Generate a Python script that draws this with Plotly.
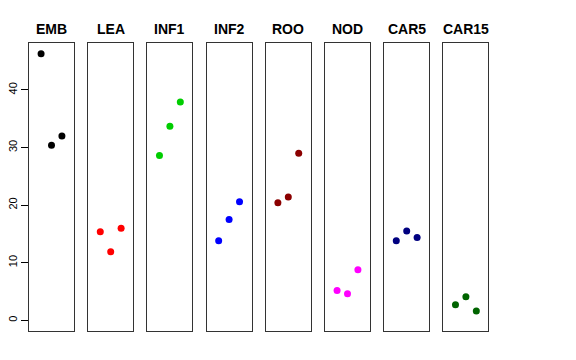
import plotly.graph_objects as go

panels = ["EMB", "LEA", "INF1", "INF2", "ROO", "NOD", "CAR5", "CAR15"]
reps = [1, 2, 3]
emb = [46.3, 30.4, 32.0]
lea = [15.4, 11.9, 16.0]
inf1 = [28.6, 33.7, 37.9]
inf2 = [13.8, 17.5, 20.6]
roo = [20.4, 21.4, 29.0]
nod = [5.2, 4.6, 8.8]
car5 = [13.8, 15.5, 14.4]
car15 = [2.7, 4.1, 1.6]
values = [emb, lea, inf1, inf2, roo, nod, car5, car15]
colors = ["#000000", "#FF0000", "#00CD00", "#0000FF", "#8B0000", "#FF00FF", "#000080", "#006400"]
yticks = [0, 10, 20, 30, 40]

W, H = 576, 360
fig = go.Figure()
ymax = max(max(v) for v in values)
ypad = ymax * 0.04
for i, (name, vals, col) in enumerate(zip(panels, values, colors)):
    left = 29 + 59.2 * i
    right = left + 45
    xa = "xaxis" if i == 0 else f"xaxis{i+1}"
    ya = "yaxis" if i == 0 else f"yaxis{i+1}"
    xr = "x" if i == 0 else f"x{i+1}"
    yr = "y" if i == 0 else f"y{i+1}"
    fig.add_trace(go.Scatter(x=reps, y=vals, mode="markers", xaxis=xr, yaxis=yr,
                             marker=dict(color=col, size=7), showlegend=False,
                             hoverinfo="skip"))
    fig.layout[xa] = dict(domain=[left / W, right / W], range=[-0.16, 4.16],
                          showticklabels=False, ticks="", showgrid=False, zeroline=False,
                          showline=True, mirror=True, linecolor="#333333", linewidth=1,
                          anchor=yr, fixedrange=True)
    ydict = dict(domain=[29 / H, 317 / H], range=[-ypad, ymax + ypad],
                 showgrid=False, zeroline=False, showline=True, mirror=True,
                 linecolor="#333333", linewidth=1, anchor=xr, fixedrange=True)
    if i == 0:
        ydict.update(tickvals=yticks, ticks="outside", ticklen=7, tickcolor="#000000",
                     tickangle=-90, tickfont=dict(family="Liberation Sans", size=11, color="#000000"))
    else:
        ydict.update(showticklabels=False, ticks="")
    fig.layout[ya] = ydict
    fig.add_annotation(x=(left + right) / 2 / W, y=1 - 29 / H, xref="paper", yref="paper",
                       text=f"<b>{name}</b>", showarrow=False, xanchor="center", yanchor="middle",
                       font=dict(family="Liberation Sans", size=14, color="#000000"))

fig.update_layout(width=W, height=H, margin=dict(l=0, r=0, t=0, b=0),
                  paper_bgcolor="white", plot_bgcolor="white")
fig.write_html("out.html", config={"displayModeBar": False},
               post_script="document.body.style.margin='0';")
